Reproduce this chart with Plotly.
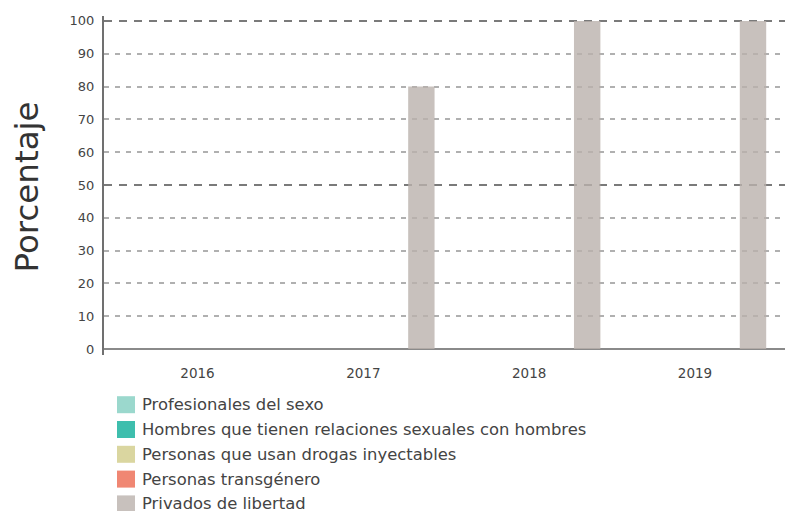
import plotly.graph_objects as go

# Data
years = ["2016", "2017", "2018", "2019"]
series_names = [
    "Profesionales del sexo",
    "Hombres que tienen relaciones sexuales con hombres",
    "Personas que usan drogas inyectables",
    "Personas transgénero",
    "Privados de libertad",
]
series_values = [
    [0, 0, 0, 0],
    [0, 0, 0, 0],
    [0, 0, 0, 0],
    [0, 0, 0, 0],
    [0, 80, 100, 100],
]
series_colors = [
    "rgba(130,206,193,0.8)",
    "rgba(14,174,153,0.8)",
    "rgba(209,204,136,0.8)",
    "rgba(236,105,80,0.8)",
    "rgba(186,177,172,0.8)",
]
y_ticks = [0, 10, 20, 30, 40, 50, 60, 70, 80, 90, 100]
y_major_grid = [50, 100]
y_minor_grid = [10, 20, 30, 40, 60, 70, 80, 90]

FONT = "DejaVu Sans"
W, H = 785, 511
ML, MR, MT, MB = 104, 0, 16, 156
PW, PH = W - ML - MR, H - MT - MB


def px_x(p):
    return (p - ML) / PW


def px_y(p):
    return (H - MB - p) / PH


fig = go.Figure()
for name, vals, col in zip(series_names, series_values, series_colors):
    fig.add_trace(go.Bar(
        x=years, y=vals, name=name,
        marker=dict(color=col, line=dict(width=0)),
        showlegend=False,
    ))

# empty trace so the overlay axis (heavier grid lines) is drawn
fig.add_trace(go.Scatter(x=[], y=[], yaxis="y2", showlegend=False))

yrange = [-1.8, 101.5]
fig.update_layout(
    width=W, height=H,
    margin=dict(l=ML, r=MR, t=MT, b=MB, autoexpand=False),
    paper_bgcolor="white", plot_bgcolor="white",
    barmode="group", bargap=0.125, bargroupgap=0.09,
    font=dict(family=FONT, size=13, color="#444"),
    xaxis=dict(
        type="category", range=[-0.564, 3.543],
        showgrid=False, showline=False, zeroline=False,
        ticks="outside", ticklen=6, tickcolor="rgba(0,0,0,0)",
        tickfont=dict(size=13.5, color="#444"),
    ),
    yaxis=dict(
        range=yrange, tickvals=y_ticks,
        showgrid=False,
        minor=dict(tickvals=y_minor_grid, showgrid=True, gridcolor="#b0b0b0",
                   gridwidth=1.5, griddash="5px,6px", ticks=""),
        showline=True, linecolor="#707070", linewidth=2,
        zeroline=True, zerolinecolor="#8a8a8a", zerolinewidth=2,
        ticks="outside", ticklen=5, tickcolor="rgba(0,0,0,0)",
        tickfont=dict(size=13, color="#444"),
    ),
    yaxis2=dict(
        range=yrange, overlaying="y", anchor="x", side="left",
        tickvals=y_major_grid, showticklabels=False,
        showgrid=True, gridcolor="#7a7a7a", gridwidth=2, griddash="8px,7px",
        showline=False, zeroline=False, ticks="",
    ),
)

# axis title
fig.add_annotation(
    text="Porcentaje", xref="paper", yref="paper",
    x=px_x(26), y=px_y(187.5), xanchor="center", yanchor="middle",
    textangle=-90, showarrow=False,
    font=dict(family=FONT, size=32.5, color="#333"),
)

# legend: swatches and labels listed below the plot
row0, row_step = 404.7, 24.8
for i, (name, col) in enumerate(zip(series_names, series_colors)):
    cy = row0 + i * row_step
    fig.add_shape(
        type="rect", xref="paper", yref="paper",
        x0=px_x(117), x1=px_x(135), y0=px_y(cy - 8.5), y1=px_y(cy + 8.5),
        fillcolor=col, line=dict(width=0), layer="above",
    )
    fig.add_annotation(
        text=name, xref="paper", yref="paper",
        x=px_x(139.5), y=px_y(cy), xanchor="left", yanchor="middle",
        showarrow=False, font=dict(family=FONT, size=16.4, color="#444"),
    )

fig.write_html("out.html")
